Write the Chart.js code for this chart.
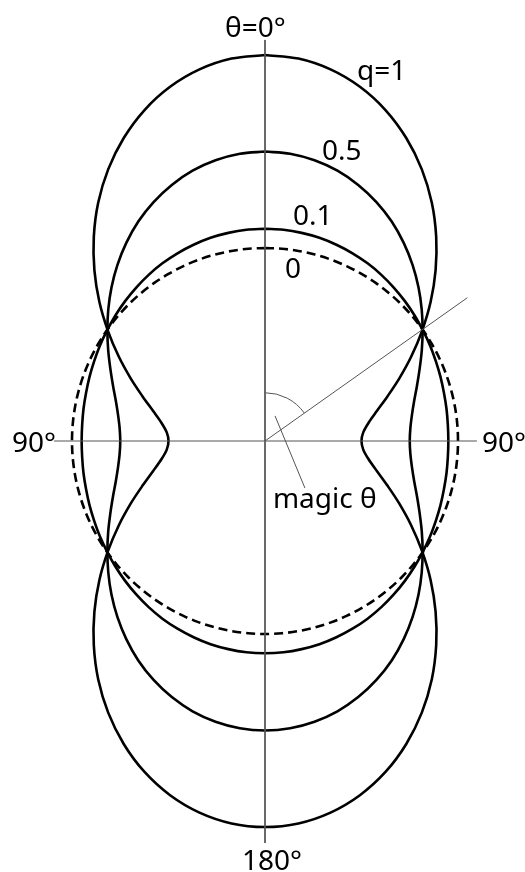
<!DOCTYPE html>
<html>
<head>
<meta charset="utf-8">
<title>Magic angle</title>
<script src="https://cdn.jsdelivr.net/npm/chart.js@4/dist/chart.umd.min.js"></script>
<style>
    html, body { margin: 0; padding: 0; background: #fff; }
    #wrap { width: 525px; height: 872px; position: relative; }
</style>
</head>
<body>
<div id="wrap"><canvas id="magicChart"></canvas></div>
<script>
// ================================
// Data (radius in units of the q=0 circle)
// angle measured from the vertical axis, one quadrant
// ================================

const angles = [0, 5, 10, 15, 20, 25, 30, 35, 40, 45, 50, 55, 60, 65, 70, 75, 80, 85, 90];

const rQ1 = [2.000, 1.989, 1.955, 1.900, 1.825, 1.732, 1.625, 1.507, 1.380, 1.250, 1.120, 0.993, 0.875, 0.768, 0.675, 0.600, 0.545, 0.511, 0.500];

const rQ05 = [1.500, 1.494, 1.477, 1.450, 1.412, 1.366, 1.313, 1.253, 1.190, 1.125, 1.060, 0.997, 0.938, 0.884, 0.838, 0.800, 0.773, 0.756, 0.750];

const rQ01 = [1.100, 1.099, 1.095, 1.090, 1.082, 1.073, 1.063, 1.051, 1.038, 1.025, 1.012, 0.999, 0.988, 0.977, 0.968, 0.960, 0.955, 0.951, 0.950];

const rQ0 = [1.000, 1.000, 1.000, 1.000, 1.000, 1.000, 1.000, 1.000, 1.000, 1.000, 1.000, 1.000, 1.000, 1.000, 1.000, 1.000, 1.000, 1.000, 1.000];

const curveLabels = ["q=1", "0.5", "0.1", "0"];

const axisLabels = ["\u03b8=0\u00b0", "90\u00b0", "90\u00b0", "180\u00b0"];

const magicAngle = 54.7;

// ================================
// Helpers
// ================================

const toRad = d => d * Math.PI / 180;

// quadrant -> full closed curve (symmetric about both axes)
function fullCurve(r) {
    const pts = [];
    const n = angles.length;
    for (let i = 0; i < n; i++) pts.push([angles[i], r[i]]);
    for (let i = n - 2; i >= 0; i--) pts.push([180 - angles[i], r[i]]);
    for (let i = 1; i < n; i++) pts.push([180 + angles[i], r[i]]);
    for (let i = n - 2; i >= 0; i--) pts.push([360 - angles[i], r[i]]);
    return pts.map(([a, rr]) => ({ x: rr * Math.sin(toRad(a)), y: rr * Math.cos(toRad(a)) }));
}

function curveSet(r, dash) {
    return {
        data: fullCurve(r),
        showLine: true,
        borderColor: "#000",
        borderWidth: 2.6,
        borderDash: dash || [],
        pointRadius: 0,
        tension: 0.33,
        fill: false
    };
}

function guideSet(points) {
    return {
        data: points,
        showLine: true,
        borderColor: "#555",
        borderWidth: 1,
        pointRadius: 0,
        tension: 0,
        fill: false
    };
}

// ================================
// Labels and annotations
// ================================

const textPlacement = [
    { text: axisLabels[0], x: -0.207, y: 2.093 },
    { text: curveLabels[0], x: 0.477, y: 1.870 },
    { text: curveLabels[1], x: 0.295, y: 1.456 },
    { text: curveLabels[2], x: 0.145, y: 1.119 },
    { text: curveLabels[3], x: 0.104, y: 0.845 },
    { text: axisLabels[1], x: -1.311, y: -0.057 },
    { text: axisLabels[2], x: 1.124, y: -0.057 },
    { text: axisLabels[3], x: -0.119, y: -2.223 },
    { text: "magic \u03b8", x: 0.041, y: -0.347 }
];

const annotations = {
    id: "annotations",
    afterDatasetsDraw(chart) {
        const ctx = chart.ctx;
        const xs = chart.scales.x;
        const ys = chart.scales.y;
        const cx = xs.getPixelForValue(0);
        const cy = ys.getPixelForValue(0);
        const unit = xs.getPixelForValue(1) - cx;

        ctx.save();

        // angle arc
        ctx.strokeStyle = "#555";
        ctx.lineWidth = 1;
        ctx.beginPath();
        ctx.arc(cx, cy, 0.25 * unit, -Math.PI / 2, -Math.PI / 2 + toRad(magicAngle));
        ctx.stroke();

        // leader line to the label
        ctx.beginPath();
        ctx.moveTo(xs.getPixelForValue(0.052), ys.getPixelForValue(0.130));
        ctx.lineTo(xs.getPixelForValue(0.207), ys.getPixelForValue(-0.244));
        ctx.stroke();

        ctx.fillStyle = "#000";
        ctx.font = "28px 'Noto Sans'";
        ctx.textAlign = "left";
        ctx.textBaseline = "alphabetic";
        textPlacement.forEach(t => {
            ctx.fillText(t.text, xs.getPixelForValue(t.x), ys.getPixelForValue(t.y));
        });

        ctx.restore();
    }
};

// ================================
// Chart
// ================================

function createMagicChart() {

    const mx = 1.285 * Math.sin(toRad(magicAngle));
    const my = 1.285 * Math.cos(toRad(magicAngle));

    new Chart(document.getElementById("magicChart"), {

        type: "scatter",

        data: {
            datasets: [
                guideSet([{ x: 0, y: 2.078 }, { x: 0, y: -2.083 }]),
                guideSet([{ x: -1.093, y: 0 }, { x: 1.098, y: 0 }]),
                guideSet([{ x: 0, y: 0 }, { x: mx, y: my }]),
                curveSet(rQ0, [9, 5]),
                curveSet(rQ01),
                curveSet(rQ05),
                curveSet(rQ1)
            ]
        },

        options: {
            responsive: true,
            maintainAspectRatio: false,
            animation: false,
            layout: { padding: 0 },
            plugins: {
                legend: { display: false },
                tooltip: { enabled: false }
            },
            scales: {
                x: { type: "linear", display: false, min: -265 / 193, max: 260 / 193 },
                y: { type: "linear", display: false, min: -431 / 193, max: 441 / 193 }
            }
        },

        plugins: [annotations]

    });

}

document.addEventListener("DOMContentLoaded", () => {

    createMagicChart();

});
</script>
</body>
</html>
